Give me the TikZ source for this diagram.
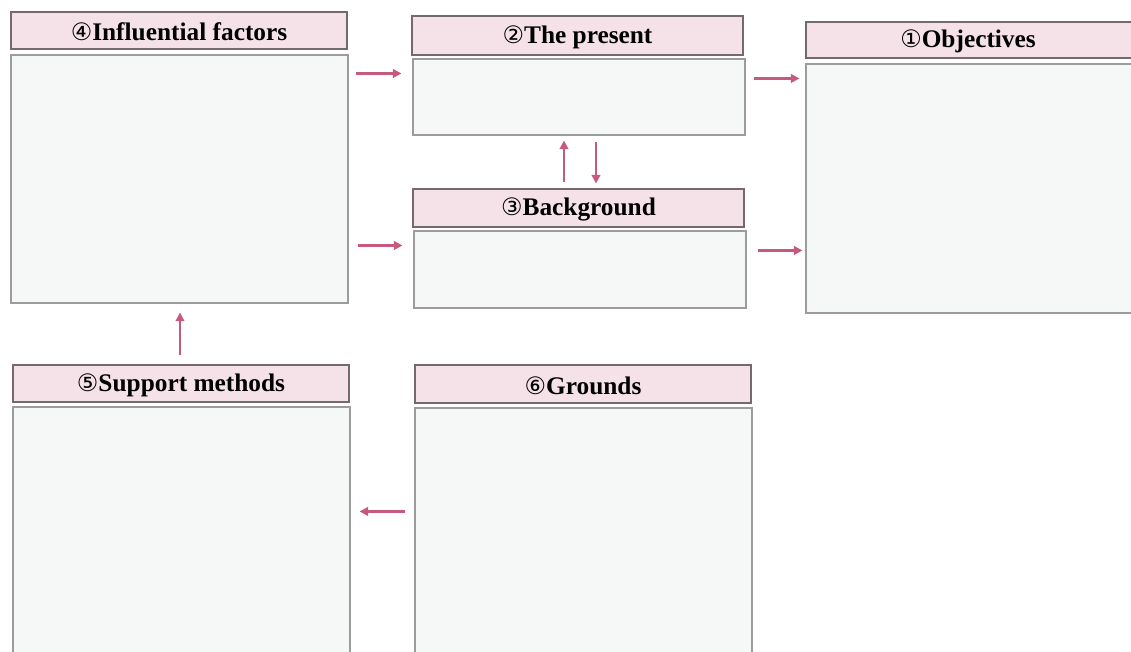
\documentclass[tikz,border=0pt]{standalone}
\usepackage{fontspec}
\setmainfont{Liberation Serif}
\newfontfamily\circfont{DejaVu Sans}
\usetikzlibrary{arrows.meta,fit}

\definecolor{hdrfill}{HTML}{F4E2E8}
\definecolor{hdrline}{HTML}{74696E}
\definecolor{bodyfill}{HTML}{F6F7F7}
\definecolor{bodyline}{HTML}{9C9C9C}
\definecolor{arrowcol}{HTML}{C65A7D}

\newcommand{\headtext}[2]{{\fontsize{18}{20}\circfont #1}{\fontsize{19}{22}\selectfont\bfseries #2}}

\tikzset{
  hdr/.style={draw=hdrline, fill=hdrfill, line width=0.8pt, inner sep=0pt},
  bodybox/.style={draw=bodyline, fill=bodyfill, line width=0.8pt, inner sep=0pt},
  headlabel/.style={inner sep=0pt, text=black, anchor=center, yshift=-1.2pt},
  flow/.style={draw=arrowcol, line width=1.8pt, -{Triangle[length=6.5pt,width=6.5pt]}}
}

\begin{document}
\begin{tikzpicture}[x=0.75pt, y=-0.75pt]
\useasboundingbox (0,0) rectangle (1131,651);
\clip (0,0) rectangle (1131,651);

% (4) influential factors
\node[hdr, fit={(11,12) (347,49)}] (h4) {};
\node[bodybox, fit={(11,55) (348,303)}] (b4) {};

% (2) the present
\node[hdr, fit={(412,16) (743,55)}] (h2) {};
\node[bodybox, fit={(413,59) (745,135)}] (b2) {};

% (3) background
\node[hdr, fit={(413,189) (744,227)}] (h3) {};
\node[bodybox, fit={(414,231) (746,308)}] (b3) {};

% (1) objectives, running past the right edge
\node[hdr, fit={(806,22) (1145,58)}] (h1) {};
\node[bodybox, fit={(806,64) (1145,313)}] (b1) {};

% (5) support methods
\node[hdr, fit={(13,365) (349,402)}] (h5) {};
\node[bodybox, fit={(13,407) (350,665)}] (b5) {};

% (6) grounds
\node[hdr, fit={(415,365) (751,403)}] (h6) {};
\node[bodybox, fit={(415,408) (752,665)}] (b6) {};

% header titles
\node[headlabel] (t4) at (h4.center) {\headtext{④}{Influential factors}};
\node[headlabel] (t2) at (h2.center) {\headtext{②}{The present}};
\node[headlabel] (t3) at (h3.center) {\headtext{③}{Background}};
\node[headlabel] (t1) at (968,40) {\headtext{①}{Objectives}};
\node[headlabel] (t5) at (h5.center) {\headtext{⑤}{Support methods}};
\node[headlabel] (t6) at (h6.center) {\headtext{⑥}{Grounds}};

% connectors
\draw[flow] ([shift={(7,19)}]b4.north east) -- ([shift={(-11,15)}]b2.north west);
\draw[flow] ([shift={(9,191)}]b4.north east) -- ([shift={(-11,15)}]b3.north west);
\draw[flow] ([shift={(8,20)}]b2.north east) -- ([shift={(-6,15)}]b1.north west);
\draw[flow] ([shift={(11,20)}]b3.north east) -- ([shift={(-3,187)}]b1.north west);
\draw[flow] ([shift={(-14.5,-6)}]h3.north) -- ([shift={(-15,5)}]b2.south);
\draw[flow] ([shift={(17,6)}]b2.south) -- ([shift={(17.5,-5)}]h3.north);
\draw[flow] ([shift={(-1,-9)}]h5.north) -- ([shift={(0.5,9)}]b4.south);
\draw[flow] ([shift={(-9,104)}]b6.north west) -- ([shift={(9,105)}]b5.north east);
\end{tikzpicture}
\end{document}
